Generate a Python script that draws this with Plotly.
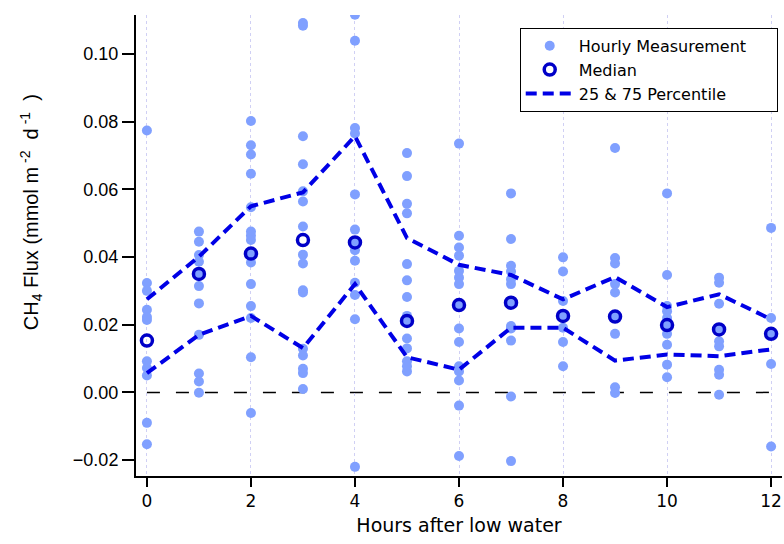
import plotly.graph_objects as go

# Hours after low water
hours = list(range(13))

# Hourly CH4 flux measurements (mmol m-2 d-1), grouped by hour
flux_h0 = [0.0774, 0.0323, 0.0300, 0.0244, 0.0223, 0.0214, 0.0092, 0.0072, 0.0050, -0.0090, -0.0153]
flux_h1 = [0.0475, 0.0445, 0.0406, 0.0386, 0.0352, 0.0314, 0.0263, 0.0170, 0.0056, 0.0032, -0.0001]
flux_h2 = [0.0802, 0.0730, 0.0703, 0.0646, 0.0547, 0.0475, 0.0463, 0.0450, 0.0410, 0.0384, 0.0320,
           0.0255, 0.0220, 0.0104, -0.0061]
flux_h3 = [0.1091, 0.1083, 0.0757, 0.0674, 0.0594, 0.0564, 0.0490, 0.0407, 0.0381, 0.0302, 0.0295,
           0.0129, 0.0109, 0.0070, 0.0057, 0.0010]
flux_h4 = [0.1116, 0.1039, 0.0781, 0.0765, 0.0585, 0.0481, 0.0443, 0.0420, 0.0389, 0.0324, 0.0288,
           0.0216, -0.0220]
flux_h5 = [0.0707, 0.0639, 0.0557, 0.0529, 0.0379, 0.0331, 0.0282, 0.0226, 0.0211, 0.0159, 0.0130,
           0.0092, 0.0077, 0.0062]
flux_h6 = [0.0735, 0.0463, 0.0428, 0.0404, 0.0359, 0.0339, 0.0320, 0.0258, 0.0189, 0.0149, 0.0077,
           0.0062, 0.0035, -0.0039, -0.0188]
flux_h7 = [0.0588, 0.0453, 0.0374, 0.0357, 0.0334, 0.0320, 0.0265, 0.0196, 0.0189, 0.0153, -0.0012, -0.0203]
flux_h8 = [0.0399, 0.0357, 0.0270, 0.0226, 0.0191, 0.0149, 0.0077]
flux_h9 = [0.0722, 0.0397, 0.0381, 0.0320, 0.0295, 0.0226, 0.0173, 0.0015, -0.0002]
flux_h10 = [0.0588, 0.0347, 0.0255, 0.0240, 0.0220, 0.0199, 0.0173, 0.0141, 0.0082, 0.0045]
flux_h11 = [0.0339, 0.0324, 0.0262, 0.0186, 0.0151, 0.0136, 0.0067, 0.0052, -0.0007]
flux_h12 = [0.0486, 0.0220, 0.0173, 0.0084, -0.0160]

hourly_flux = [flux_h0, flux_h1, flux_h2, flux_h3, flux_h4, flux_h5, flux_h6,
               flux_h7, flux_h8, flux_h9, flux_h10, flux_h11, flux_h12]

# Summary statistics per hour
median_flux = [0.0153, 0.0350, 0.0410, 0.0450, 0.0443, 0.0211, 0.0258,
               0.0265, 0.0226, 0.0224, 0.0199, 0.0186, 0.0173]
p75_flux = [0.0275, 0.0401, 0.0550, 0.0591, 0.0757, 0.0456, 0.0377,
            0.0347, 0.0275, 0.0341, 0.0252, 0.0290, 0.0216]
p25_flux = [0.0057, 0.0170, 0.0226, 0.0131, 0.0320, 0.0104, 0.0067,
            0.0191, 0.0191, 0.0094, 0.0112, 0.0107, 0.0127]

x_ticks = [0, 2, 4, 6, 8, 10, 12]
y_ticks = [-0.02, 0.00, 0.02, 0.04, 0.06, 0.08, 0.10]

POINT_COLOR = "#80a0ff"
MEDIAN_COLOR = "#0000c8"
PCT_COLOR = "#0000e6"
LABEL_FONT = "DejaVu Sans"
NUM_FONT = "Liberation Sans"
PAD = "\u00a0" * 5  # right padding inside the legend box

pts_x = [h for h, vals in zip(hours, hourly_flux) for _ in vals]
pts_y = [v for vals in hourly_flux for v in vals]

fig = go.Figure()

fig.add_trace(go.Scatter(
    x=pts_x, y=pts_y, mode="markers", name="Hourly Measurement" + PAD,
    marker=dict(color=POINT_COLOR, size=10, line=dict(width=0)),
    legendgroup="a", legendrank=1,
))

pct_line = dict(color=PCT_COLOR, width=4, dash="11px,6px")
fig.add_trace(go.Scatter(
    x=hours, y=p75_flux, mode="lines", name="25 & 75 Percentile",
    line=pct_line, legendgroup="c", legendrank=3,
))
fig.add_trace(go.Scatter(
    x=hours, y=p25_flux, mode="lines", name="25 & 75 Percentile",
    line=pct_line, legendgroup="c", showlegend=False,
))

fig.add_trace(go.Scatter(
    x=hours, y=median_flux, mode="markers", name="Median",
    marker=dict(symbol="circle-open", color=MEDIAN_COLOR, size=11,
                line=dict(width=3.5, color=MEDIAN_COLOR)),
    legendgroup="b", legendrank=2,
))

# Zero reference line
fig.add_shape(type="line", xref="x", yref="y", x0=0, x1=12, y0=0, y1=0,
              line=dict(color="black", width=1.5, dash="13px,16px"), layer="below")

fig.add_annotation(
    text="CH<sub>4</sub> Flux (mmol m<sup> -2</sup>  d<sup> -1</sup>  )",
    xref="paper", yref="paper", x=-0.162, y=0.573, xanchor="center", yanchor="middle",
    textangle=-90, showarrow=False, font=dict(family=NUM_FONT, size=20, color="black"),
)

fig.update_layout(
    width=784, height=544,
    margin=dict(l=136, r=2, t=15, b=68),
    plot_bgcolor="white", paper_bgcolor="white",
    showlegend=True,
    legend=dict(
        x=0.594, y=0.972, xanchor="left", yanchor="top",
        bordercolor="black", borderwidth=1, bgcolor="white",
        font=dict(family=LABEL_FONT, size=16, color="black"),
        traceorder="grouped", tracegroupgap=0, itemwidth=48,
    ),
    xaxis=dict(
        range=[-0.21, 12.21], tickvals=x_ticks, ticks="outside", ticklen=9, tickwidth=1.5,
        tickcolor="black", showline=True, linecolor="black", linewidth=2,
        showgrid=True, gridcolor="#d0d0f4", griddash="dot", gridwidth=1, zeroline=False,
        tickfont=dict(family=LABEL_FONT, size=17, color="black"),
        title=dict(text="Hours after low water", standoff=8,
                   font=dict(family=LABEL_FONT, size=19, color="black")),
    ),
    yaxis=dict(
        range=[-0.0247, 0.1115], tickvals=y_ticks, tickformat=".2f", ticks="outside",
        ticklen=12, tickwidth=1.5, tickcolor="black", showline=True, linecolor="black",
        linewidth=2, showgrid=False, zeroline=False,
        tickfont=dict(family=NUM_FONT, size=18, color="black"),
    ),
)

fig.write_html("out.html")
